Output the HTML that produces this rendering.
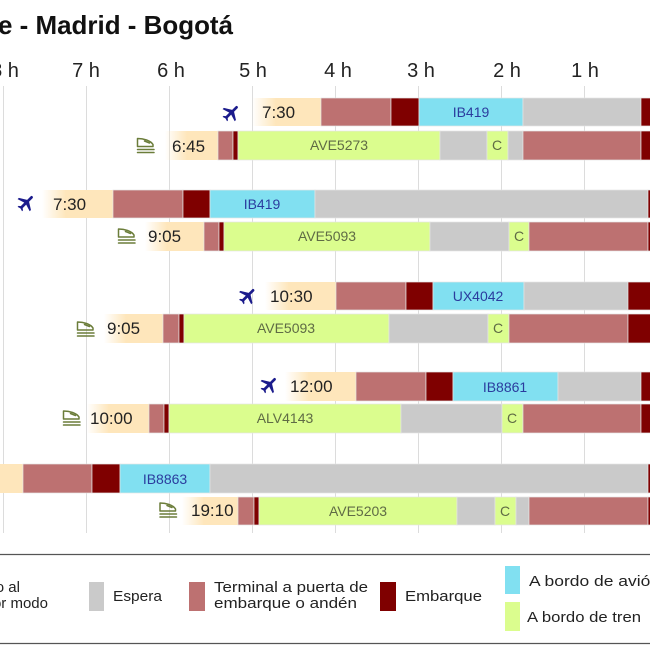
<!DOCTYPE html>
<html><head><meta charset="utf-8"><style>
html,body{margin:0;padding:0;background:#fff;}
svg{display:block;}
text{font-family:"Liberation Sans",sans-serif;}
</style></head><body>
<svg width="650" height="650" viewBox="0 0 650 650" xmlns="http://www.w3.org/2000/svg">
<defs>
<linearGradient id="fade" x1="0" y1="0" x2="1" y2="0">
<stop offset="0" stop-color="#fee6bb" stop-opacity="0"/>
<stop offset="1" stop-color="#fee6bb" stop-opacity="1"/>
</linearGradient>
<g id="plane"><path transform="scale(0.9) rotate(45) translate(-12,-12)" d="M21 16v-2l-8-5V3.5c0-.83-.67-1.5-1.5-1.5S10 2.67 10 3.5V9l-8 5v2l8-2.5V19l-2 1.5V22l3.5-1 3.5 1v-1.5L13 19v-5.5l8 2.5z" fill="#1b1b8c"/></g>
<g id="train" fill="none" stroke="#6b7d3a" stroke-width="1.5" stroke-linecap="round" stroke-linejoin="round"><path d="M-8,-7 C-2,-7 5,-5 7.5,-1 L7.5,1 L-8,1 Z"/><path d="M-1,-4.5 L4,-2.5"/><path d="M-8,4 H8.5 M-8,7 H8.5"/></g>
</defs>

<!-- title -->
<text x="-2" y="34" font-size="26" font-weight="bold" fill="#111" textLength="235" lengthAdjust="spacingAndGlyphs">e - Madrid - Bogotá</text>

<!-- tick labels -->
<g font-size="20" fill="#222" text-anchor="middle">
<text x="5" y="77">8 h</text>
<text x="86" y="77">7 h</text>
<text x="171" y="77">6 h</text>
<text x="253" y="77">5 h</text>
<text x="338" y="77">4 h</text>
<text x="421" y="77">3 h</text>
<text x="507" y="77">2 h</text>
<text x="585" y="77">1 h</text>
</g>

<!-- grid -->
<g stroke="#dcdcdc" stroke-width="1">
<line x1="3.5" y1="86" x2="3.5" y2="533"/>
<line x1="86.5" y1="86" x2="86.5" y2="533"/>
<line x1="169.5" y1="86" x2="169.5" y2="533"/>
<line x1="252.5" y1="86" x2="252.5" y2="533"/>
<line x1="335.5" y1="86" x2="335.5" y2="533"/>
<line x1="418.5" y1="86" x2="418.5" y2="533"/>
<line x1="501.5" y1="86" x2="501.5" y2="533"/>
<line x1="584.5" y1="86" x2="584.5" y2="533"/>
</g>

<g stroke="#e4e4e4" stroke-width="0.7">
<!-- Row1 plane -->
<rect x="252" y="98" width="24" height="28" fill="url(#fade)" stroke="none"/>
<rect x="276" y="98" width="45" height="28" fill="#fee6bb" stroke="none"/>
<rect x="321" y="98" width="70" height="28" fill="#bd7171"/>
<rect x="391" y="98" width="28" height="28" fill="#7f0000"/>
<rect x="419" y="98" width="104" height="28" fill="#81e0f1"/>
<rect x="523" y="98" width="118" height="28" fill="#cacaca"/>
<rect x="641" y="98" width="12" height="28" fill="#7f0000"/>
<!-- Row1 train -->
<rect x="165" y="131" width="22" height="29" fill="url(#fade)" stroke="none"/>
<rect x="187" y="131" width="31" height="29" fill="#fee6bb" stroke="none"/>
<rect x="218" y="131" width="15" height="29" fill="#bd7171"/>
<rect x="233" y="131" width="5" height="29" fill="#7f0000"/>
<rect x="238" y="131" width="202" height="29" fill="#dbfd8e"/>
<rect x="440" y="131" width="47" height="29" fill="#cacaca"/>
<rect x="487" y="131" width="21" height="29" fill="#dbfd8e"/>
<rect x="508" y="131" width="15" height="29" fill="#cacaca"/>
<rect x="523" y="131" width="118" height="29" fill="#bd7171"/>
<rect x="641" y="131" width="12" height="29" fill="#7f0000"/>

<!-- Row2 plane -->
<rect x="42" y="190" width="24" height="28" fill="url(#fade)" stroke="none"/>
<rect x="66" y="190" width="47" height="28" fill="#fee6bb" stroke="none"/>
<rect x="113" y="190" width="70" height="28" fill="#bd7171"/>
<rect x="183" y="190" width="27" height="28" fill="#7f0000"/>
<rect x="210" y="190" width="105" height="28" fill="#81e0f1"/>
<rect x="315" y="190" width="333" height="28" fill="#cacaca"/>
<rect x="648" y="190" width="5" height="28" fill="#7f0000"/>
<!-- Row2 train -->
<rect x="145" y="222" width="22" height="29" fill="url(#fade)" stroke="none"/>
<rect x="167" y="222" width="37" height="29" fill="#fee6bb" stroke="none"/>
<rect x="204" y="222" width="15" height="29" fill="#bd7171"/>
<rect x="219" y="222" width="5" height="29" fill="#7f0000"/>
<rect x="224" y="222" width="206" height="29" fill="#dbfd8e"/>
<rect x="430" y="222" width="79" height="29" fill="#cacaca"/>
<rect x="509" y="222" width="20" height="29" fill="#dbfd8e"/>
<rect x="529" y="222" width="119" height="29" fill="#bd7171"/>
<rect x="648" y="222" width="5" height="29" fill="#7f0000"/>

<!-- Row3 plane -->
<rect x="265" y="282" width="24" height="28" fill="url(#fade)" stroke="none"/>
<rect x="289" y="282" width="47" height="28" fill="#fee6bb" stroke="none"/>
<rect x="336" y="282" width="70" height="28" fill="#bd7171"/>
<rect x="406" y="282" width="27" height="28" fill="#7f0000"/>
<rect x="433" y="282" width="91" height="28" fill="#81e0f1"/>
<rect x="524" y="282" width="104" height="28" fill="#cacaca"/>
<rect x="628" y="282" width="25" height="28" fill="#7f0000"/>
<!-- Row3 train -->
<rect x="104" y="314" width="22" height="29" fill="url(#fade)" stroke="none"/>
<rect x="126" y="314" width="37" height="29" fill="#fee6bb" stroke="none"/>
<rect x="163" y="314" width="16" height="29" fill="#bd7171"/>
<rect x="179" y="314" width="5" height="29" fill="#7f0000"/>
<rect x="184" y="314" width="205" height="29" fill="#dbfd8e"/>
<rect x="389" y="314" width="99" height="29" fill="#cacaca"/>
<rect x="488" y="314" width="21" height="29" fill="#dbfd8e"/>
<rect x="509" y="314" width="119" height="29" fill="#bd7171"/>
<rect x="628" y="314" width="25" height="29" fill="#7f0000"/>

<!-- Row4 plane -->
<rect x="285" y="372" width="24" height="29" fill="url(#fade)" stroke="none"/>
<rect x="309" y="372" width="47" height="29" fill="#fee6bb" stroke="none"/>
<rect x="356" y="372" width="70" height="29" fill="#bd7171"/>
<rect x="426" y="372" width="27" height="29" fill="#7f0000"/>
<rect x="453" y="372" width="105" height="29" fill="#81e0f1"/>
<rect x="558" y="372" width="83" height="29" fill="#cacaca"/>
<rect x="641" y="372" width="12" height="29" fill="#7f0000"/>
<!-- Row4 train -->
<rect x="87" y="404" width="22" height="29" fill="url(#fade)" stroke="none"/>
<rect x="109" y="404" width="40" height="29" fill="#fee6bb" stroke="none"/>
<rect x="149" y="404" width="15" height="29" fill="#bd7171"/>
<rect x="164" y="404" width="5" height="29" fill="#7f0000"/>
<rect x="169" y="404" width="232" height="29" fill="#dbfd8e"/>
<rect x="401" y="404" width="101" height="29" fill="#cacaca"/>
<rect x="502" y="404" width="21" height="29" fill="#dbfd8e"/>
<rect x="523" y="404" width="118" height="29" fill="#bd7171"/>
<rect x="641" y="404" width="12" height="29" fill="#7f0000"/>

<!-- Row5 plane -->
<rect x="-5" y="464" width="28" height="29" fill="#fee6bb" stroke="none"/>
<rect x="23" y="464" width="69" height="29" fill="#bd7171"/>
<rect x="92" y="464" width="28" height="29" fill="#7f0000"/>
<rect x="120" y="464" width="90" height="29" fill="#81e0f1"/>
<rect x="210" y="464" width="438" height="29" fill="#cacaca"/>
<rect x="648" y="464" width="5" height="29" fill="#7f0000"/>
<!-- Row5 train -->
<rect x="182" y="497" width="22" height="28" fill="url(#fade)" stroke="none"/>
<rect x="204" y="497" width="34" height="28" fill="#fee6bb" stroke="none"/>
<rect x="238" y="497" width="16" height="28" fill="#bd7171"/>
<rect x="254" y="497" width="5" height="28" fill="#7f0000"/>
<rect x="259" y="497" width="198" height="28" fill="#dbfd8e"/>
<rect x="457" y="497" width="38" height="28" fill="#cacaca"/>
<rect x="495" y="497" width="21" height="28" fill="#dbfd8e"/>
<rect x="516" y="497" width="13" height="28" fill="#cacaca"/>
<rect x="529" y="497" width="119" height="28" fill="#bd7171"/>
<rect x="648" y="497" width="5" height="28" fill="#7f0000"/>
</g>

<!-- time labels -->
<g font-size="17" fill="#222">
<text x="262" y="118">7:30</text>
<text x="172" y="152">6:45</text>
<text x="53" y="210">7:30</text>
<text x="148" y="242">9:05</text>
<text x="270" y="302">10:30</text>
<text x="107" y="334">9:05</text>
<text x="290" y="392">12:00</text>
<text x="90" y="424">10:00</text>
<text x="191" y="516">19:10</text>
</g>

<!-- segment labels -->
<g font-size="14" text-anchor="middle">
<g fill="#2b3c9e">
<text x="471" y="117">IB419</text>
<text x="262" y="209">IB419</text>
<text x="478" y="301">UX4042</text>
<text x="505" y="392">IB8861</text>
<text x="165" y="484">IB8863</text>
</g>
<g fill="#5f6b45">
<text x="339" y="150">AVE5273</text>
<text x="497" y="150">C</text>
<text x="327" y="241">AVE5093</text>
<text x="519" y="241">C</text>
<text x="286" y="333">AVE5093</text>
<text x="498" y="333">C</text>
<text x="285" y="423">ALV4143</text>
<text x="512" y="423">C</text>
<text x="358" y="516">AVE5203</text>
<text x="505" y="516">C</text>
</g>
</g>

<!-- icons -->
<use href="#plane" x="231.5" y="113"/>
<use href="#plane" x="26.5" y="203"/>
<use href="#plane" x="248" y="296"/>
<use href="#plane" x="269.5" y="385"/>
<use href="#train" x="145.5" y="145.5"/>
<use href="#train" x="126.5" y="236"/>
<use href="#train" x="85.5" y="329"/>
<use href="#train" x="71.5" y="418"/>
<use href="#train" x="168" y="510"/>

<!-- legend -->
<line x1="0" y1="554.5" x2="650" y2="554.5" stroke="#555" stroke-width="1.3"/>
<line x1="0" y1="643.5" x2="650" y2="643.5" stroke="#555" stroke-width="1.3"/>
<g font-size="15" fill="#222">
<text x="20" y="592" text-anchor="end">Acceso al</text>
<text x="48" y="608" text-anchor="end">por modo</text>
<rect x="89" y="582" width="15" height="29" fill="#cacaca"/>
<text x="113" y="601" textLength="49" lengthAdjust="spacingAndGlyphs">Espera</text>
<rect x="189" y="582" width="16" height="29" fill="#bd7171"/>
<text x="214" y="592" textLength="154" lengthAdjust="spacingAndGlyphs">Terminal a puerta de</text>
<text x="214" y="608" textLength="143" lengthAdjust="spacingAndGlyphs">embarque o andén</text>
<rect x="380" y="582" width="16" height="29" fill="#7f0000"/>
<text x="405" y="601" textLength="77" lengthAdjust="spacingAndGlyphs">Embarque</text>
<rect x="505" y="566" width="15" height="28" fill="#81e0f1"/>
<text x="529" y="586" textLength="131" lengthAdjust="spacingAndGlyphs">A bordo de avión</text>
<rect x="505" y="602" width="15" height="29" fill="#dbfd8e"/>
<text x="527" y="622" textLength="114" lengthAdjust="spacingAndGlyphs">A bordo de tren</text>
</g>
</svg>
</body></html>
